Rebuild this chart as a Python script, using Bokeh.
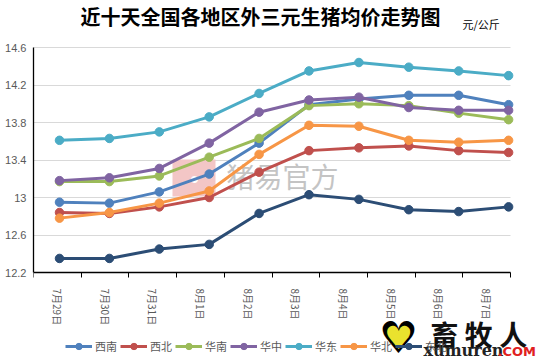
import numpy as np
from bokeh.plotting import figure
from bokeh.models import (Range1d, FixedTicker, Legend, LegendItem, Label,
                          BoxAnnotation, Grid)
from bokeh.embed import file_html
from bokeh.resources import INLINE

# ---------------- data ----------------
dates = ["7月29日", "7月30日", "7月31日", "8月1日", "8月2日",
         "8月3日", "8月4日", "8月5日", "8月6日", "8月7日"]
regions = ["西南", "西北", "华南", "华中", "华东", "华北", "东北"]

xinan    = [12.95, 12.94, 13.06, 13.25, 13.58, 13.99, 14.05, 14.09, 14.09, 13.99]
xibei    = [12.84, 12.83, 12.90, 13.00, 13.27, 13.50, 13.53, 13.55, 13.50, 13.48]
huanan   = [13.17, 13.17, 13.23, 13.43, 13.63, 13.98, 14.00, 13.98, 13.90, 13.83]
huazhong = [13.18, 13.21, 13.31, 13.58, 13.91, 14.04, 14.07, 13.96, 13.93, 13.93]
huadong  = [13.61, 13.63, 13.70, 13.86, 14.11, 14.35, 14.44, 14.39, 14.35, 14.30]
huabei   = [12.78, 12.84, 12.94, 13.07, 13.46, 13.77, 13.76, 13.61, 13.59, 13.61]
dongbei  = [12.35, 12.35, 12.45, 12.50, 12.83, 13.03, 12.98, 12.87, 12.85, 12.90]

y_ticks = [12.2, 12.6, 13.0, 13.4, 13.8, 14.2, 14.6]
y_tick_labels = ["12.2", "12.6", "13", "13.4", "13.8", "14.2", "14.6"]

title_text = "近十天全国各地区外三元生猪均价走势图"
unit_text = "元/公斤"

series = [xinan, xibei, huanan, huazhong, huadong, huabei, dongbei]
colors = ["#4F81BD", "#C0504D", "#9BBB59", "#8064A2", "#4BACC6", "#F79646", "#2C4D75"]

# ---------------- layout ----------------
W, H = 548, 362
LEFT, RIGHT, TOP, BOTTOM = 33, 510, 47, 272     # plot area edges (px)
CAT_W = (RIGHT - LEFT) / len(dates)             # one category band (px)
PT_W = 49.9                                     # spacing of the points (px)
FIRST_OFF = 26                                  # first point from left edge (px)
PX_PER_Y = (BOTTOM - TOP) / (y_ticks[-1] - y_ticks[0])

has_cross = "cross_bounds" in Grid.properties()
FRAME_RIGHT = W if has_cross else RIGHT

xs = (np.arange(len(dates)) * PT_W + FIRST_OFF) / CAT_W - 0.5
x_lo, x_hi = -0.5, len(dates) - 0.5

p = figure(width=W, height=H, output_backend="svg", toolbar_location=None,
           title=None,
           x_range=Range1d(x_lo, x_hi + (FRAME_RIGHT - RIGHT) / CAT_W),
           y_range=Range1d(y_ticks[0] - (H - BOTTOM) / PX_PER_Y,
                           y_ticks[-1] + TOP / PX_PER_Y),
           min_border_left=LEFT, min_border_right=W - FRAME_RIGHT,
           min_border_top=0, min_border_bottom=0)
p.outline_line_color = None
p.background_fill_color = "white"
p.border_fill_color = "white"

# x axis (drawn at the bottom of the value range)
xa = p.xaxis[0]
xa.fixed_location = y_ticks[0]
xa.bounds = (x_lo, x_hi)
xa.ticker = FixedTicker(ticks=list(range(len(dates))),
                        minor_ticks=[k - 0.5 for k in range(len(dates) + 1)])
xa.major_label_overrides = {i: d for i, d in enumerate(dates)}
xa.major_label_orientation = "vertical"
xa.major_tick_out = 0
xa.major_tick_in = 0
xa.minor_tick_out = 5
xa.minor_tick_in = 0
xa.minor_tick_line_color = "black"
xa.axis_line_color = "black"
xa.axis_line_width = 1.3
xa.major_label_standoff = 11
xa.major_label_text_font = "Noto Sans CJK SC"
xa.major_label_text_font_size = "10px"
xa.major_label_text_color = "#595959"
p.xgrid.visible = False

# y axis
ya = p.yaxis[0]
ya.bounds = (y_ticks[0], y_ticks[-1])
ya.ticker = FixedTicker(ticks=y_ticks)
ya.major_label_overrides = dict(zip(y_ticks, y_tick_labels))
ya.major_tick_out = 0
ya.major_tick_in = 0
ya.minor_tick_out = 0
ya.minor_tick_in = 0
ya.axis_line_color = "black"
ya.axis_line_width = 1.3
ya.major_label_standoff = 7
ya.major_label_text_font = "Liberation Sans"
ya.major_label_text_font_size = "11px"
ya.major_label_text_color = "#595959"
p.ygrid.grid_line_color = "#D9D9D9"
p.ygrid.grid_line_width = 1
if has_cross:
    p.ygrid.cross_bounds = (x_lo, x_hi)


def lab(x, y, **kw):
    # x, y: page pixels from the top-left corner
    p.add_layout(Label(x=x - LEFT, y=H - y, x_units="screen", y_units="screen", **kw))


# watermark in the middle (under the lines)
p.add_layout(BoxAnnotation(left=172 - LEFT, right=215 - LEFT,
                           bottom=H - 196, top=H - 159,
                           left_units="screen", right_units="screen",
                           bottom_units="screen", top_units="screen",
                           fill_color="#F3C6C6", fill_alpha=1.0,
                           line_color=None, level="underlay"))
lab(194, 178, text="●", text_color="white", text_font_size="16px",
    text_align="center", text_baseline="middle", level="underlay")
lab(226, 175, text="猪易官方", text_color="#C4C4C4",
    text_font="Noto Sans CJK SC", text_font_size="28px",
    text_baseline="middle", level="underlay")

items = []
for name, vals, col in zip(regions, series, colors):
    r1 = p.line(xs, vals, line_color=col, line_width=3)
    r2 = p.scatter(xs, vals, marker="circle", size=8.5, fill_color=col, line_color=col)
    items.append(LegendItem(label=name, renderers=[r1, r2]))

legend = Legend(items=items, orientation="horizontal", location=(65 - LEFT, H - 354),
                glyph_width=27, glyph_height=16, label_height=16,
                label_standoff=3, spacing=3, padding=0, margin=0,
                label_text_font="Noto Sans CJK SC", label_text_font_size="11px",
                label_text_color="#595959",
                border_line_alpha=0, background_fill_alpha=0)
p.add_layout(legend, "center")

lab(260, 16, text=title_text, text_align="center", text_baseline="middle",
    text_font="Noto Sans CJK SC", text_font_style="bold",
    text_font_size="20px", text_color="black")
lab(462, 23, text=unit_text, text_align="left", text_baseline="middle",
    text_font="Noto Sans CJK SC", text_font_size="11px", text_color="black")

# bottom right logo watermark
lab(398, 337, text="♥", text_align="center", text_baseline="middle",
    text_font="DejaVu Sans", text_font_size="44px", text_color="black")
lab(398, 337, text="♥", text_align="center", text_baseline="middle",
    text_font="DejaVu Sans", text_font_size="32px", text_color="#EAE22E")
lab(430, 333, text="畜 牧 人", text_align="left", text_baseline="middle",
    text_font="Noto Sans CJK SC", text_font_style="bold",
    text_font_size="28px", text_color="#111111")
lab(423, 350, text="xumuren", text_align="left", text_baseline="middle",
    text_font="DejaVu Serif", text_font_style="bold",
    text_font_size="16px", text_color="#222222")
lab(497, 351, text=".COM", text_align="left", text_baseline="middle",
    text_font="DejaVu Sans", text_font_style="bold",
    text_font_size="13px", text_color="#E0201E")

open("out.html", "w").write(file_html(p, INLINE))
